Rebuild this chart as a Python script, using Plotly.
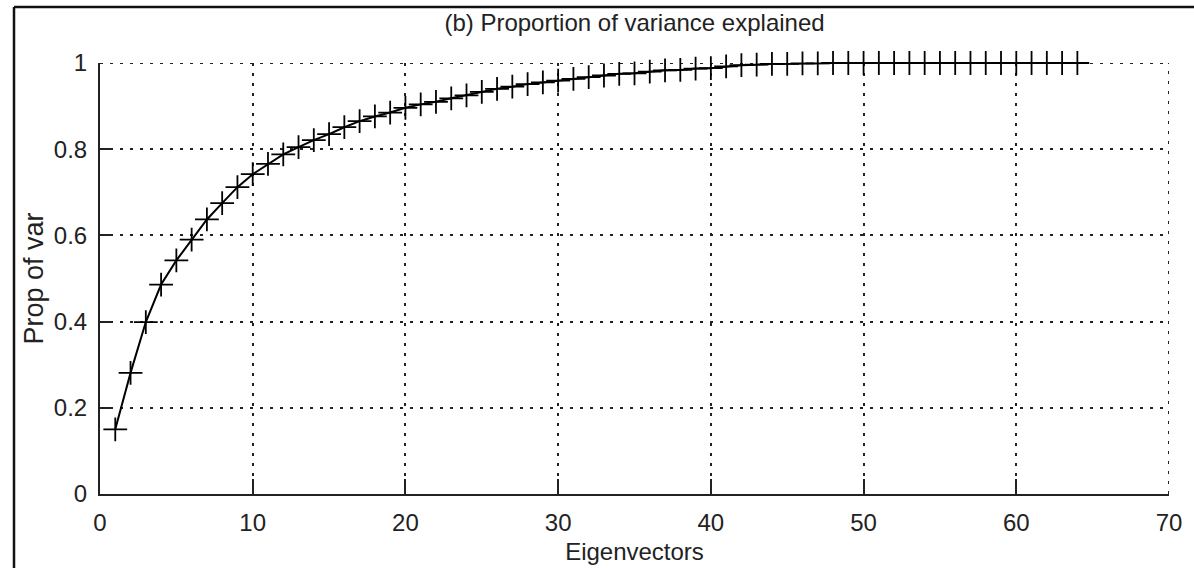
import plotly.graph_objects as go

eigenvectors = list(range(1, 65))
prop_var = [0.150, 0.281, 0.399, 0.486, 0.542, 0.590, 0.637, 0.675, 0.712, 0.742,
            0.766, 0.788, 0.805, 0.821, 0.835, 0.851, 0.865, 0.876, 0.885, 0.896,
            0.904, 0.910, 0.918, 0.925, 0.933, 0.940, 0.945, 0.951, 0.955, 0.959,
            0.963, 0.967, 0.971, 0.975, 0.976, 0.980, 0.983, 0.984, 0.987, 0.988,
            0.992, 0.995, 0.996, 0.998, 0.998, 0.999, 0.999, 1.000, 1.000, 1.000,
            1.000, 1.000, 1.000, 1.000, 1.000, 1.000, 1.000, 1.000, 1.000, 1.000,
            1.000, 1.000, 1.000, 1.000]
x_ticks = [0, 10, 20, 30, 40, 50, 60, 70]
y_ticks = [0, 0.2, 0.4, 0.6, 0.8, 1]
y_tick_text = ["0", "0.2", "0.4", "0.6", "0.8", "1"]

FONT = "Liberation Sans, Arial, sans-serif"
GRID_DASH = "3px,7px"

fig = go.Figure()
fig.add_trace(go.Scatter(
    x=eigenvectors, y=prop_var, mode="lines+markers",
    line=dict(color="black", width=2),
    marker=dict(symbol="cross-thin-open", size=17,
                line=dict(color="black", width=1.8), color="black"),
    showlegend=False, cliponaxis=False,
))

W, H = 1194, 568
L, R, T, B = 100, 25, 63, 74
pw, ph = W - L - R, H - T - B

def px2paper_x(px):
    return (px - L) / pw

def px2paper_y(py):
    return (H - B - py) / ph

fig.update_layout(
    width=W, height=H,
    margin=dict(l=L, r=R, t=T, b=B, autoexpand=False),
    paper_bgcolor="white", plot_bgcolor="white",
    font=dict(family=FONT, size=24, color="#222"),
    title=dict(text="(b) Proportion of variance explained",
               x=0.5, xref="paper", xanchor="center",
               y=(H - 23) / H, yref="container", yanchor="middle",
               font=dict(size=24, family=FONT, color="#222")),
    xaxis=dict(range=[0, 70], tickvals=x_ticks, ticks="inside", ticklen=15,
               tickwidth=2, tickcolor="#222", showline=True, linecolor="#222",
               linewidth=2, showgrid=True, gridcolor="#222", gridwidth=2,
               griddash=GRID_DASH, zeroline=False, automargin=False,
               title=dict(text="Eigenvectors", standoff=8,
                          font=dict(size=24, family=FONT)),
               tickfont=dict(size=24, family=FONT), ticklabelstandoff=6),
    yaxis=dict(range=[0, 1], tickvals=y_ticks, ticktext=y_tick_text,
               ticks="inside", ticklen=13, tickwidth=2, tickcolor="#222",
               showline=True, linecolor="#222", linewidth=2,
               showgrid=True, gridcolor="#222", gridwidth=2,
               griddash=GRID_DASH, zeroline=False, automargin=False,
               title=dict(text="Prop of var", standoff=2,
                          font=dict(size=27, family=FONT)),
               tickfont=dict(size=24, family=FONT), ticklabelstandoff=6),
    shapes=[
        dict(type="line", xref="paper", yref="paper",
             x0=px2paper_x(14), x1=px2paper_x(W + 5),
             y0=px2paper_y(7), y1=px2paper_y(7),
             line=dict(color="#111", width=2.5)),
        dict(type="line", xref="paper", yref="paper",
             x0=px2paper_x(14), x1=px2paper_x(14),
             y0=px2paper_y(7), y1=px2paper_y(H + 5),
             line=dict(color="#111", width=2.5)),
        dict(type="line", xref="x", yref="y", x0=70, x1=70, y0=0, y1=1,
             line=dict(color="#222", width=2, dash=GRID_DASH), layer="below"),
        dict(type="line", xref="x", yref="y", x0=0, x1=70, y0=1, y1=1,
             line=dict(color="#222", width=2, dash=GRID_DASH), layer="below"),
    ],
)

fig.write_html("out.html")
